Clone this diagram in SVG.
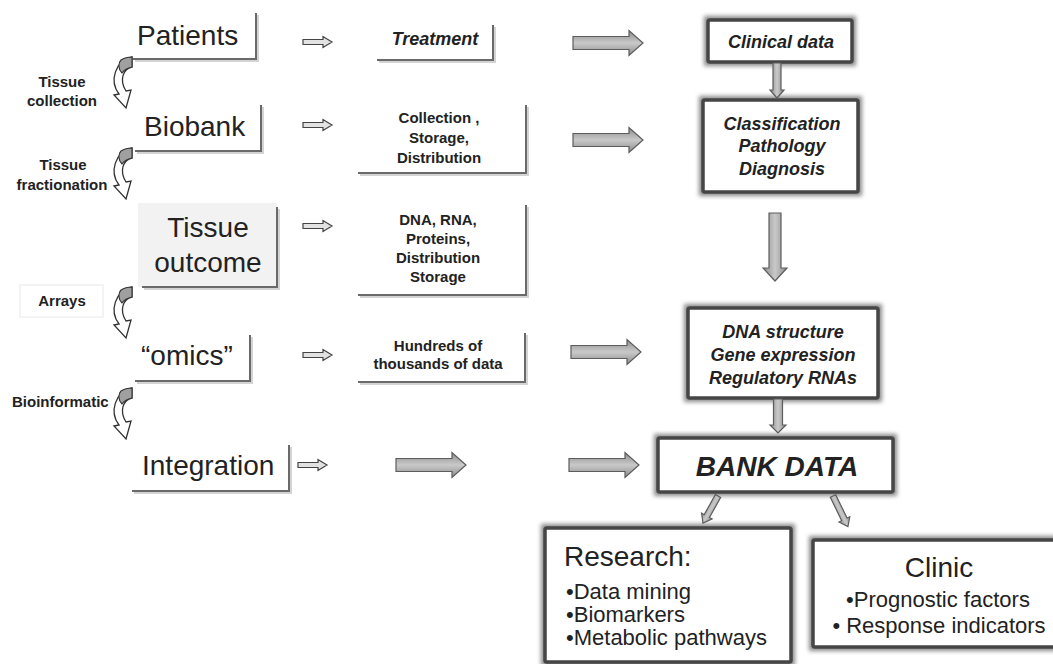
<svg xmlns="http://www.w3.org/2000/svg" width="1053" height="664" viewBox="0 0 1053 664">
<style>
.lbl{font-family:"Liberation Sans",Arial,sans-serif;fill:#222}
.big{font-size:28px}
.sm{font-size:15px;font-weight:bold}
.bi{font-weight:bold;font-style:italic}
.brk{fill:none;stroke:#6a6a6a;stroke-width:2}
.brs{fill:none;stroke:#d4d4d4;stroke-width:2}
.box{fill:#fff;stroke:#464646;stroke-width:3.5}
.boxs{fill:none;stroke:#8a8a8a;stroke-width:8}
.ba{fill:url(#gg);stroke:#5c5c5c;stroke-width:1.2}
.sa{fill:#e2e2e2;stroke:#444;stroke-width:1.2}
.ca{fill:#fff;stroke:#333;stroke-width:1.3}
.cf{fill:#a0a0a0;stroke:#333;stroke-width:1.1}
</style>
<defs>
<linearGradient id="gg" x1="0" y1="0" x2="0" y2="1">
<stop offset="0" stop-color="#8c8c8c"/><stop offset="0.5" stop-color="#c9c9c9"/><stop offset="1" stop-color="#8c8c8c"/>
</linearGradient>
<linearGradient id="gv" x1="0" y1="0" x2="1" y2="0">
<stop offset="0" stop-color="#8c8c8c"/><stop offset="0.5" stop-color="#c9c9c9"/><stop offset="1" stop-color="#8c8c8c"/>
</linearGradient>
<filter id="blur" x="-10%" y="-20%" width="120%" height="140%"><feGaussianBlur stdDeviation="2"/></filter>
<path id="small" d="M0,-2.5 L20,-2.5 L20,-5.5 L29,0 L20,5.5 L20,2.5 L0,2.5 Z"/>
<path id="bigh" d="M0,-6.5 L56,-6.5 L56,-12.5 L70,0 L56,12.5 L56,6.5 L0,6.5 Z"/>
<g id="curv">
<path class="ca" d="M0,0 L0,10 C-9,12 -13,23 -6,34 L-1,33 L-6,51 L-18,38 L-13,37 C-23,24 -17,4 0,0 Z"/>
<path class="cf" d="M0,0 L0,10 C-5,11 -8,13 -10,16 C-14,12 -14,6 -11,3 C-8,1 -4,0 0,0 Z"/>
</g>
</defs>
<rect width="1053" height="664" fill="#fff"/>

<!-- left column nodes -->
<g id="patients">
<polyline class="brs" points="135,61 258,61 258,15"/>
<polyline class="brk" points="133,59 256,59 256,13"/>
<text class="lbl big" x="137" y="45">Patients</text>
</g>
<g id="biobank">
<polyline class="brs" points="137,153 263,153 263,107"/>
<polyline class="brk" points="135,151 261,151 261,105"/>
<text class="lbl big" x="144" y="136">Biobank</text>
</g>
<g id="tissue-outcome">
<rect x="138" y="203" width="139" height="84" fill="#f2f2f2"/>
<polyline class="brs" points="144,289 279,289 279,209"/>
<polyline class="brk" points="142,287 277,287 277,207"/>
<text class="lbl big" x="208" y="237" text-anchor="middle">Tissue</text>
<text class="lbl big" x="208" y="272" text-anchor="middle">outcome</text>
</g>
<g id="omics">
<polyline class="brs" points="137,383 252,383 252,337"/>
<polyline class="brk" points="135,381 250,381 250,335"/>
<text class="lbl big" x="141" y="365">“omics”</text>
</g>
<g id="integration">
<polyline class="brs" points="134,493 291,493 291,447"/>
<polyline class="brk" points="132,491 289,491 289,445"/>
<text class="lbl big" x="142" y="475">Integration</text>
</g>

<!-- step labels -->
<g id="step-labels">
<text class="lbl sm" x="62" y="87" text-anchor="middle">Tissue</text>
<text class="lbl sm" x="62" y="106" text-anchor="middle">collection</text>
<text class="lbl sm" x="63" y="170" text-anchor="middle">Tissue</text>
<text class="lbl sm" x="62" y="190" text-anchor="middle">fractionation</text>
<rect x="20" y="285" width="83" height="32" fill="none" stroke="#f0f0f0" stroke-width="1.5"/>
<text class="lbl sm" x="62" y="306" text-anchor="middle">Arrays</text>
<text class="lbl sm" x="12" y="407">Bioinformatic</text>
</g>

<!-- middle column nodes -->
<g id="treatment">
<polyline class="brs" points="379,62 495,62 495,27"/>
<polyline class="brk" points="377,60 493,60 493,25"/>
<text class="lbl bi" font-size="18" x="435" y="45" text-anchor="middle">Treatment</text>
</g>
<g id="collection">
<polyline class="brs" points="360,175 528,175 528,107"/>
<polyline class="brk" points="358,173 526,173 526,105"/>
<text class="lbl sm" x="439" y="123" text-anchor="middle">Collection ,</text>
<text class="lbl sm" x="439" y="143" text-anchor="middle">Storage,</text>
<text class="lbl sm" x="439" y="163" text-anchor="middle">Distribution</text>
</g>
<g id="dna-rna">
<polyline class="brs" points="360,297 528,297 528,207"/>
<polyline class="brk" points="358,295 526,295 526,205"/>
<text class="lbl sm" x="438" y="225" text-anchor="middle">DNA, RNA,</text>
<text class="lbl sm" x="438" y="244" text-anchor="middle">Proteins,</text>
<text class="lbl sm" x="438" y="263" text-anchor="middle">Distribution</text>
<text class="lbl sm" x="438" y="282" text-anchor="middle">Storage</text>
</g>
<g id="hundreds">
<polyline class="brs" points="360,384 527,384 527,335"/>
<polyline class="brk" points="358,382 525,382 525,333"/>
<text class="lbl sm" x="438" y="351" text-anchor="middle">Hundreds of</text>
<text class="lbl sm" x="438" y="369" text-anchor="middle">thousands of data</text>
</g>

<!-- right column nodes -->
<g id="clinical-data">
<rect class="boxs" x="708" y="20" width="144" height="42" filter="url(#blur)"/>
<rect class="box" x="708" y="20" width="144" height="42" rx="2"/>
<text class="lbl bi" font-size="18" x="781" y="48" text-anchor="middle">Clinical data</text>
</g>
<g id="classification">
<rect class="boxs" x="703" y="100" width="155" height="92" filter="url(#blur)"/>
<rect class="box" x="703" y="100" width="155" height="92" rx="2"/>
<text class="lbl bi" font-size="18" x="782" y="130" text-anchor="middle">Classification</text>
<text class="lbl bi" font-size="18" x="782" y="152" text-anchor="middle">Pathology</text>
<text class="lbl bi" font-size="18" x="782" y="175" text-anchor="middle">Diagnosis</text>
</g>
<g id="dna-structure">
<rect class="boxs" x="688" y="308" width="190" height="90" filter="url(#blur)"/>
<rect class="box" x="688" y="308" width="190" height="90" rx="2"/>
<text class="lbl bi" font-size="18" x="783" y="338" text-anchor="middle">DNA structure</text>
<text class="lbl bi" font-size="18" x="783" y="361" text-anchor="middle">Gene expression</text>
<text class="lbl bi" font-size="18" x="783" y="384" text-anchor="middle">Regulatory RNAs</text>
</g>
<g id="bank-data">
<rect class="boxs" x="658" y="438" width="235" height="54" filter="url(#blur)"/>
<rect class="box" x="658" y="438" width="235" height="54" rx="2"/>
<text class="lbl bi" font-size="28" x="777" y="476" text-anchor="middle">BANK DATA</text>
</g>
<g id="research">
<rect class="boxs" x="545" y="528" width="246" height="134" filter="url(#blur)"/>
<rect class="box" x="545" y="528" width="246" height="134" rx="2"/>
<text class="lbl" font-size="28" x="564" y="566">Research:</text>
<text class="lbl" font-size="22" x="566" y="599">•Data mining</text>
<text class="lbl" font-size="22" x="566" y="622">•Biomarkers</text>
<text class="lbl" font-size="22" x="566" y="645">•Metabolic pathways</text>
</g>
<g id="clinic">
<rect class="boxs" x="813" y="540" width="250" height="107" filter="url(#blur)"/>
<rect class="box" x="813" y="540" width="250" height="107" rx="2"/>
<text class="lbl" font-size="28" x="939" y="577" text-anchor="middle">Clinic</text>
<text class="lbl" font-size="22" x="938" y="607" text-anchor="middle">•Prognostic factors</text>
<text class="lbl" font-size="22" x="939" y="633" text-anchor="middle">• Response indicators</text>
</g>

<!-- connectors -->
<g id="connectors">
<use href="#curv" x="132" y="57"/>
<use href="#curv" x="132" y="148"/>
<use href="#curv" x="132" y="287"/>
<use href="#curv" x="132" y="388"/>

<use href="#small" class="sa" x="303" y="42"/>
<use href="#small" class="sa" x="303" y="125"/>
<use href="#small" class="sa" x="303" y="226"/>
<use href="#small" class="sa" x="303" y="355"/>
<use href="#small" class="sa" x="298" y="465"/>

<use href="#bigh" class="ba" x="573" y="43"/>
<use href="#bigh" class="ba" x="573" y="140"/>
<use href="#bigh" class="ba" x="571" y="352"/>
<use href="#bigh" class="ba" x="396" y="465"/>
<use href="#bigh" class="ba" x="569" y="465"/>

<path fill="url(#gv)" stroke="#5c5c5c" stroke-width="1.2" d="M773,63 L781,63 L781,90 L784,90 L777,98 L770,90 L773,90 Z"/>
<path fill="url(#gv)" stroke="#5c5c5c" stroke-width="1.2" d="M769,213 L781,213 L781,268 L787,268 L775,281 L763,268 L769,268 Z"/>
<path fill="url(#gv)" stroke="#5c5c5c" stroke-width="1.2" d="M773.5,399 L782.5,399 L782.5,425 L786,425 L778,433 L770,425 L773.5,425 Z"/>
<path fill="url(#gv)" stroke="#5c5c5c" stroke-width="1.2" transform="translate(718,496) rotate(29)" d="M-3,0 L3,0 L3,23 L6,23 L0,31 L-6,23 L-3,23 Z"/>
<path fill="url(#gv)" stroke="#5c5c5c" stroke-width="1.2" transform="translate(833,496) rotate(-26)" d="M-3,0 L3,0 L3,26 L6,26 L0,34 L-6,26 L-3,26 Z"/>
</g>
</svg>
